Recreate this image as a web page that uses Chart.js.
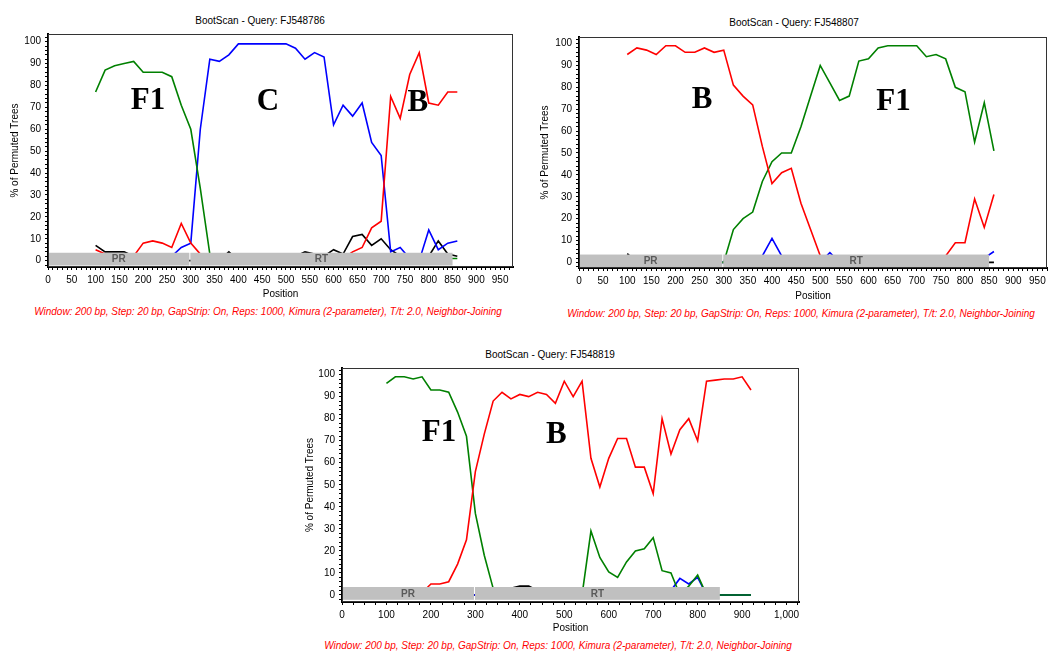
<!DOCTYPE html>
<html>
<head>
<meta charset="utf-8">
<title>BootScan</title>
<script src="https://cdn.jsdelivr.net/npm/chart.js@4.4.1/dist/chart.umd.min.js"></script>
<style>
  body { margin: 0; background: #fff; }
  #page { position: relative; width: 1051px; height: 653px; overflow: hidden; font-family: "Liberation Sans", Arial, sans-serif; }
  canvas { position: absolute; }
  .title, .footer { position: absolute; width: 600px; text-align: center; font-size: 10px; line-height: 12px; white-space: nowrap; color: #000; }
  .footer { color: #ff0000; font-style: italic; }
</style>
</head>
<body>
<div id="page">
  <div class="title" style="left:-40px; top:15px">BootScan - Query: FJ548786</div>
  <div class="title" style="left:494px; top:17px">BootScan - Query: FJ548807</div>
  <div class="title" style="left:250px; top:349px">BootScan - Query: FJ548819</div>
  <canvas id="chart786" width="530" height="302" style="left:0; top:0"></canvas>
  <canvas id="chart807" width="521" height="304" style="left:530px; top:0"></canvas>
  <canvas id="chart819" width="520" height="296" style="left:290px; top:340px"></canvas>
  <div class="footer" style="left:-32px; top:306px">Window: 200 bp, Step: 20 bp, GapStrip: On, Reps: 1000, Kimura (2-parameter), T/t: 2.0, Neighbor-Joining</div>
  <div class="footer" style="left:501px; top:308px">Window: 200 bp, Step: 20 bp, GapStrip: On, Reps: 1000, Kimura (2-parameter), T/t: 2.0, Neighbor-Joining</div>
  <div class="footer" style="left:258px; top:640px">Window: 200 bp, Step: 20 bp, GapStrip: On, Reps: 1000, Kimura (2-parameter), T/t: 2.0, Neighbor-Joining</div>
</div>
<script>
// posições das janelas (centro da janela, passo 20 bp)
const positionsShort = [100, 120, 140, 160, 180, 200, 220, 240, 260, 280, 300, 320, 340, 360, 380, 400, 420, 440, 460, 480,
  500, 520, 540, 560, 580, 600, 620, 640, 660, 680, 700, 720, 740, 760, 780, 800, 820, 840, 860]
const positionsLong = [100, 120, 140, 160, 180, 200, 220, 240, 260, 280, 300, 320, 340, 360, 380, 400, 420, 440, 460, 480,
  500, 520, 540, 560, 580, 600, 620, 640, 660, 680, 700, 720, 740, 760, 780, 800, 820, 840, 860, 880, 900, 920]

// FJ548786
const red786 = [5, 3, 2, 2, 2, 8, 9, 8, 6, 17, 8, 3, 0, 0, 0, 0, 0, 0, 0, 0,
  0, 0, 0, 0, 0, 0, 1, 4, 6, 15, 18, 75, 65, 85, 95, 72, 71, 77, 77]
const green786 = [77, 87, 89, 90, 91, 86, 86, 86, 84, 71, 60, 33, 3, 0, 0, 0, 0, 0, 0, 0,
  0, 0, 0, 0, 0, 0, 0, 0, 0, 0, 0, 0, 0, 0, 0, 0, 0, 1, 1]
const blue786 = [0, 0, 0, 0, 0, 0, 0, 0, 2, 6, 8, 60, 92, 91, 94, 99, 99, 99, 99, 99,
  99, 97, 92, 95, 93, 62, 71, 66, 72, 54, 48, 4, 6, 1, 0, 14, 5, 8, 9]
const black786 = [7, 4, 4, 4, 2, 0, 0, 0, 0, 0, 0, 0, 0, 0, 4, 0, 0, 0, 0, 0,
  0, 2, 4, 3, 2, 5, 3, 11, 12, 7, 10, 5, 2, 0, 0, 2, 9, 3, 2]

// FJ548807
const red807 = [95, 98, 97, 95, 99, 99, 96, 96, 98, 96, 97, 81, 76, 72, 53, 36, 41, 43, 27, 15,
  3, 0, 0, 0, 0, 0, 0, 0, 0, 0, 0, 0, 0, 3, 9, 9, 29, 16, 31]
const green807 = [0, 0, 0, 0, 0, 0, 0, 0, 0, 0, 0, 15, 20, 23, 37, 46, 50, 50, 62, 76,
  90, 82, 74, 76, 92, 93, 98, 99, 99, 99, 99, 94, 95, 93, 80, 78, 55, 73, 51]
const blue807 = [0, 0, 0, 0, 0, 0, 0, 0, 0, 0, 0, 0, 0, 0, 3, 11, 3, 0, 0, 0,
  0, 4.5, 0, 0, 0, 0, 0, 0, 0, 0, 0, 0, 0, 0, 0, 0, 0, 2, 5]
const black807 = [4, 0, 0, 0, 0, 0, 0, 0, 0, 0, 0, 0, 0, 0, 0, 0, 0, 0, 0, 0,
  0, 0, 0, 0, 0, 0, 0, 0, 0, 0, 0, 0, 0, 0, 0, 0, 0, 0, 0]

// FJ548819
const red819 = [0, 0, 0, 0, 1, 5, 5, 6, 14, 25, 56, 73, 88, 92, 89, 91, 90, 92, 91, 87,
  97, 90, 97, 62, 49, 62, 71, 71, 58, 58, 46, 80, 64, 75, 80, 70, 97, 97.5, 98, 98, 99, 93]
const green819 = [96, 99, 99, 98, 99, 93, 93, 92, 83, 72, 37, 18, 3, 0, 0, 0, 0, 0, 0, 0,
  0, 0, 0, 29, 17, 10.5, 8, 15, 20, 21, 26, 11, 10, 0, 4, 9, 0, 0, 0, 0, 0, 0]
const blue819 = [0, 0, 0, 0, 0, 0, 0, 0, 0, 0, 0, 0, 0, 0, 0, 0, 0, 0, 0, 0,
  0, 0, 0, 0, 0, 0, 0, 0, 0, 0, 0, 0, 2, 7.5, 5, 8, 0, 0, 0, 0, 0, 0]
const black819 = [0, 0, 0, 0, 0, 0, 0, 0, 0, 0, 0, 0, 0, 0, 3, 4, 4, 2, 0, 0,
  0, 0, 0, 0, 0, 0, 0, 0, 0, 0, 0, 0, 0, 0, 0, 0, 0, 0, 0, 0, 0, 0]

// subtipos anotados
const labels786 = ["F1", "C", "B"]
const labelX786 = [210, 462, 777]
const labelY786 = [73, 72.5, 72]
const labels807 = ["B", "F1"]
const labelX807 = [255, 652]
const labelY807 = [74, 73.5]
const labels819 = ["F1", "B"]
const labelX819 = [218, 482]
const labelY819 = [73.4, 72.7]

// regiões do gene (faixa cinzenta)
const regionNames = ["PR", "RT"]
const regionStart = [0, 298]
const regionEnd = [298, 850]

// etiquetas dos eixos
const yTickLabels = [0, 10, 20, 30, 40, 50, 60, 70, 80, 90, 100]
const xTickLabelsShort = [0, 50, 100, 150, 200, 250, 300, 350, 400, 450, 500, 550, 600, 650, 700, 750, 800, 850, 900, 950]
const xTickLabelsLong = [0, 100, 200, 300, 400, 500, 600, 700, 800, 900, 1000]

const axisFont = { family: "'Liberation Sans', Arial, sans-serif", size: 10 }

// faixa das regiões, rótulos dos subtipos e moldura
const bootscanDecor = {
  id: "bootscanDecor",
  afterDatasetsDraw(chart, args, opts) {
    const { ctx, chartArea } = chart
    const x = chart.scales.x
    const y = chart.scales.y
    ctx.save()
    const top = y.getPixelForValue(3.6)
    const bottom = y.getPixelForValue(-2.2)
    regionNames.forEach((name, i) => {
      const left = x.getPixelForValue(regionStart[i]) + (i > 0 ? 0.5 : 0)
      const right = x.getPixelForValue(regionEnd[i]) - (i < regionNames.length - 1 ? 0.5 : 0)
      ctx.fillStyle = "#c0c0c0"
      ctx.fillRect(left, top, right - left, bottom - top)
      ctx.fillStyle = "#5a5a5a"
      ctx.font = "bold 10px 'Liberation Sans', Arial, sans-serif"
      ctx.textAlign = "center"
      ctx.textBaseline = "middle"
      ctx.fillText(name, (left + right) / 2, (top + bottom) / 2 + 0.5)
    })

    ctx.fillStyle = "#000"
    ctx.font = "bold 31px 'Liberation Serif', 'Times New Roman', serif"
    ctx.textAlign = "center"
    ctx.textBaseline = "middle"
    opts.names.forEach((name, i) => {
      ctx.fillText(name, x.getPixelForValue(opts.xs[i]), y.getPixelForValue(opts.ys[i]))
    })

    ctx.strokeStyle = "#333"
    ctx.lineWidth = 1
    ctx.strokeRect(chartArea.left + 0.5, chartArea.top + 0.5, chartArea.width - 1, chartArea.height - 1)
    ctx.restore()
  },
}

function line(label, positions, values, color) {
  return {
    label: label,
    data: positions.map((p, i) => ({ x: p, y: values[i] })),
    borderColor: color,
    borderWidth: 1.6,
    pointRadius: 0,
    tension: 0,
    fill: false,
  }
}

function drawBootScan(canvasId, cfg) {
  const Chart = window.Chart
  new Chart(document.getElementById(canvasId), {
    type: "line",
    data: {
      datasets: [
        line("B", cfg.positions, cfg.red, "#ff0000"),
        line("F1", cfg.positions, cfg.green, "#008000"),
        line("C", cfg.positions, cfg.blue, "#0000ff"),
        line("Outgroup", cfg.positions, cfg.black, "#000000"),
      ],
    },
    options: {
      responsive: false,
      animation: false,
      events: [],
      layout: { padding: cfg.padding },
      plugins: {
        legend: { display: false },
        tooltip: { enabled: false },
        bootscanDecor: { names: cfg.names, xs: cfg.labelX, ys: cfg.labelY },
      },
      scales: {
        x: {
          type: "linear",
          min: 0,
          max: cfg.xMax,
          afterFit: (scale) => { scale.height = cfg.xHeight },
          ticks: {
            stepSize: cfg.xStep,
            autoSkip: false,
            maxRotation: 0,
            minRotation: 0,
            includeBounds: false,
            padding: 4,
            color: "#000",
            font: axisFont,
            callback: (v) => (cfg.xLabels.includes(v) ? v.toLocaleString("en-US") : ""),
          },
          grid: { drawOnChartArea: false, tickLength: 3, tickColor: "#000" },
          border: { color: "#000", width: 2 },
          title: { display: true, text: "Position", color: "#000", font: axisFont, padding: { top: 0, bottom: 2 } },
        },
        y: {
          min: cfg.yMin,
          max: cfg.yMax,
          afterFit: (scale) => { scale.width = cfg.yWidth },
          ticks: {
            stepSize: 2,
            autoSkip: false,
            includeBounds: false,
            padding: 4,
            color: "#000",
            font: axisFont,
            callback: (v) => (yTickLabels.includes(v) ? v : ""),
          },
          grid: { drawOnChartArea: false, tickLength: 3, tickColor: "#000" },
          border: { color: "#000", width: 2 },
          title: { display: true, text: "% of Permuted Trees", color: "#000", font: axisFont, padding: { top: cfg.yTitlePad, bottom: 0 } },
        },
      },
    },
    plugins: [bootscanDecor],
  })
}

document.addEventListener("DOMContentLoaded", () => {
  drawBootScan("chart786", {
    positions: positionsShort, red: red786, green: green786, blue: blue786, black: black786,
    names: labels786, labelX: labelX786, labelY: labelY786,
    padding: { top: 34, right: 17, left: 0, bottom: 0 },
    xMax: 977, xStep: 10, xLabels: xTickLabelsShort, xHeight: 35,
    yMin: -2.9, yMax: 103.5, yWidth: 48, yTitlePad: 9,
  })
  drawBootScan("chart807", {
    positions: positionsShort, red: red807, green: green807, blue: blue807, black: black807,
    names: labels807, labelX: labelX807, labelY: labelY807,
    padding: { top: 37, right: 1, left: 0, bottom: 0 },
    xMax: 970, xStep: 10, xLabels: xTickLabelsShort, xHeight: 36,
    yMin: -2.55, yMax: 103, yWidth: 49, yTitlePad: 9.7,
  })
  drawBootScan("chart819", {
    positions: positionsLong, red: red819, green: green819, blue: blue819, black: black819,
    names: labels819, labelX: labelX819, labelY: labelY819,
    padding: { top: 28, right: 11, left: 0, bottom: 0 },
    xMax: 1028, xStep: 25, xLabels: xTickLabelsLong, xHeight: 34,
    yMin: -3.2, yMax: 103, yWidth: 52, yTitlePad: 14.7,
  })
})
</script>
</body>
</html>
